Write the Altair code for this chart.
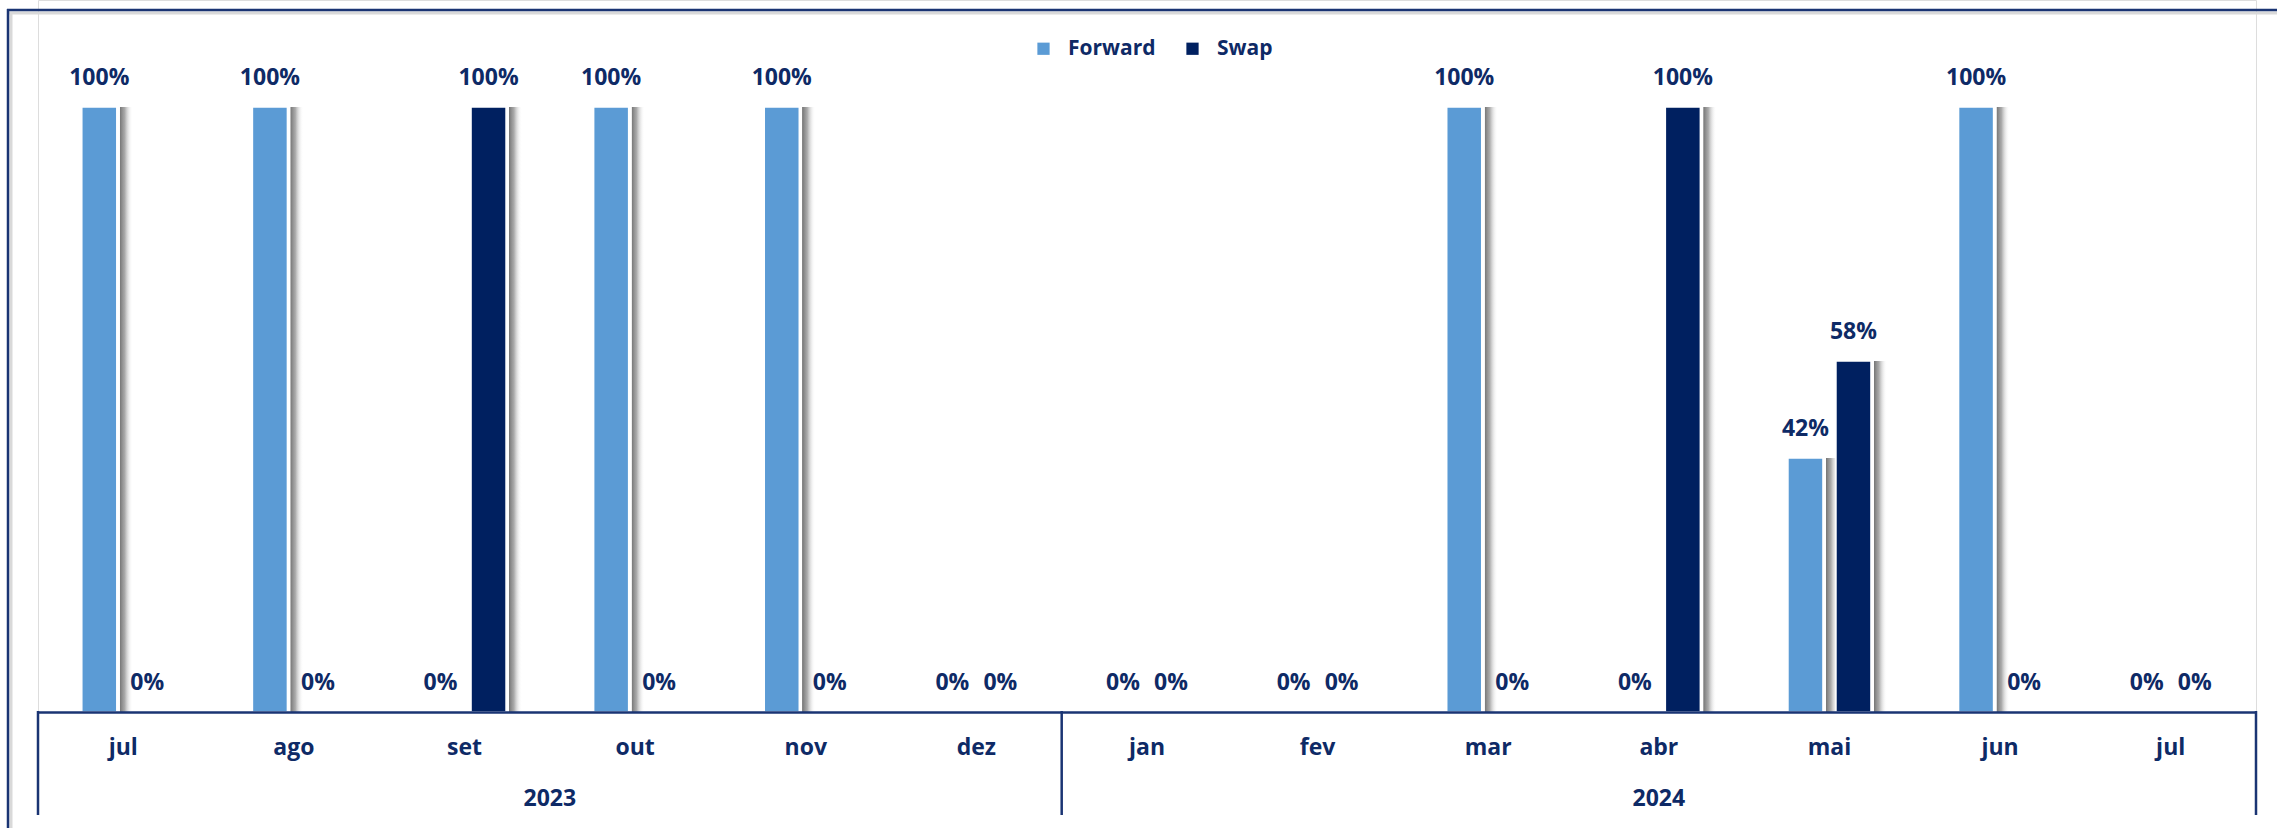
import altair as alt
import pandas as pd

months = ["jul", "ago", "set", "out", "nov", "dez", "jan", "fev", "mar", "abr", "mai", "jun", "jul"]
years = ["2023"] * 6 + ["2024"] * 7
forward = [1.00, 1.00, 0.00, 1.00, 1.00, 0.00, 0.00, 0.00, 1.00, 0.00, 0.42, 1.00, 0.00]
swap = [0.00, 0.00, 1.00, 0.00, 0.00, 0.00, 0.00, 0.00, 0.00, 1.00, 0.58, 0.00, 0.00]
series = ["Forward", "Swap"]
colors = ["#5B9BD5", "#002060"]

keys = [f"{y}-{m}" for y, m in zip(years, months)]
rows = []
for k, f, s in zip(keys, forward, swap):
    rows.append({"key": k, "series": "Forward", "value": f})
    rows.append({"key": k, "series": "Swap", "value": s})
df = pd.DataFrame(rows)

NAVY = "#0E2A66"
LINE = "#1A3473"
FONT = "Open Sans"
FS = 23

W, H = 2218, 712
ymax = 712 / 605


def ax():
    return alt.Axis(title=None, labelExpr="split(datum.label, '-')[1]", labelFont=FONT,
                    labelFontSize=FS, labelFontWeight="bold", labelColor=NAVY,
                    labelPadding=24, ticks=False, tickSize=0, domainColor=LINE,
                    domainWidth=2.5, labelAngle=0, grid=False, zindex=2)


def xk(bp=None):
    if bp is None:
        return alt.X("key:N", sort=keys, scale=alt.Scale(paddingInner=0, paddingOuter=0), axis=ax())
    return alt.X("key:N", sort=keys, scale=alt.Scale(paddingInner=0, paddingOuter=0),
                 bandPosition=bp, axis=ax())


xoff = alt.XOffset("series:N", sort=series, scale=alt.Scale(paddingInner=0, paddingOuter=0.777))
yenc = alt.Y("value:Q", scale=alt.Scale(domain=[0, ymax]), axis=None)
cenc = alt.Color("series:N", sort=series, scale=alt.Scale(domain=series, range=colors),
                 legend=alt.Legend(title=None, orient="none", legendX=995, legendY=38,
                                   direction="horizontal", symbolType="square", symbolSize=150,
                                   symbolStrokeWidth=0, labelFont=FONT, labelFontSize=21,
                                   labelFontWeight="bold", labelColor=NAVY, labelOffset=14,
                                   columnPadding=26))

shadow_grad = alt.Gradient(
    gradient="linear", x1=0, x2=1, y1=0, y2=0,
    stops=[alt.GradientStop(offset=0, color="rgba(255,255,255,0)"),
           alt.GradientStop(offset=0.80, color="rgba(255,255,255,0)"),
           alt.GradientStop(offset=0.81, color="rgba(120,120,120,1)"),
           alt.GradientStop(offset=0.88, color="rgba(150,150,150,0.8)"),
           alt.GradientStop(offset=1, color="rgba(255,255,255,0)")])

shadow = alt.Chart(df).mark_bar(width=67, color=shadow_grad).encode(
    x=xk(), xOffset=xoff, y=yenc)

bars = alt.Chart(df).mark_bar(width=35, stroke="white", strokeWidth=1.5).encode(
    x=xk(), xOffset=xoff, y=yenc, color=cenc)

labels = alt.Chart(df).mark_text(font=FONT, fontSize=FS, fontWeight="bold", color=NAVY,
                                 baseline="alphabetic", dy=-22).encode(
    x=xk(), xOffset=xoff, y=yenc,
    text=alt.Text("value:Q", format=".0%"))

sep_start = pd.DataFrame({"key": [keys[0], keys[6]]})
sep_end = pd.DataFrame({"key": [keys[-1]]})
sep1 = alt.Chart(sep_start).mark_rule(color=LINE, strokeWidth=2.5).encode(
    x=xk(0), y=alt.value(711), y2=alt.value(815))
sep2 = alt.Chart(sep_end).mark_rule(color=LINE, strokeWidth=2.5).encode(
    x=xk(1), y=alt.value(711), y2=alt.value(815))

yl1 = alt.Chart(pd.DataFrame({"key": [keys[3]], "year": ["2023"]})).mark_text(
    font=FONT, fontSize=FS, fontWeight="bold", color=NAVY, baseline="middle").encode(
    x=xk(0), y=alt.value(799), text="year:N")
yl2 = alt.Chart(pd.DataFrame({"key": [keys[9]], "year": ["2024"]})).mark_text(
    font=FONT, fontSize=FS, fontWeight="bold", color=NAVY, baseline="middle").encode(
    x=xk(0.5), y=alt.value(799), text="year:N")

one = pd.DataFrame({"a": [0]})
frame_top_sh = alt.Chart(one).mark_rule(color="#d9d9d9", strokeWidth=3).encode(
    x=alt.value(-30), x2=alt.value(2400), y=alt.value(13))
frame_top = alt.Chart(one).mark_rule(color=LINE, strokeWidth=2.5).encode(
    x=alt.value(-31), x2=alt.value(2400), y=alt.value(10))
frame_left_sh = alt.Chart(one).mark_rule(color="#d9d9d9", strokeWidth=3).encode(
    x=alt.value(-27), y=alt.value(12), y2=alt.value(900))
frame_left = alt.Chart(one).mark_rule(color=LINE, strokeWidth=2.5).encode(
    x=alt.value(-30), y=alt.value(9), y2=alt.value(900))

chart = alt.layer(
    frame_top_sh, frame_left_sh, frame_top, frame_left,
    shadow, bars, labels, sep1, sep2, yl1, yl2
).properties(
    width=W, height=H,
    padding={"left": 38, "right": 21, "top": 0, "bottom": 116},
    autosize=alt.AutoSizeParams(type="none"),
).configure_view(stroke=None).configure(background="white")

chart.save("out.html", embed_options={"renderer": "svg", "actions": False})
